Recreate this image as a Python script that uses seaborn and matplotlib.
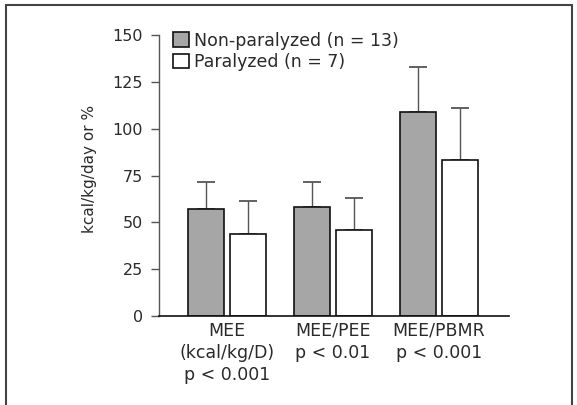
import matplotlib
matplotlib.use("Agg")
import matplotlib.pyplot as plt
import seaborn as sns
import pandas as pd
from matplotlib.patches import Rectangle, Patch

categories = ["MEE\n(kcal/kg/D)\np < 0.001", "MEE/PEE\np < 0.01", "MEE/PBMR\np < 0.001"]
groups = ["Non-paralyzed (n = 13)", "Paralyzed (n = 7)"]
nonpar_mean = [57.1, 58.2, 109.1]
nonpar_err = [14.6, 13.5, 23.7]
par_mean = [43.9, 45.7, 83.3]
par_err = [17.3, 17.5, 27.7]
yticks = [0, 25, 50, 75, 100, 125, 150]

sns.set_style("white")
plt.rcParams['font.family'] = ['DejaVu Sans']
FS = 12.5
TXT = "#2a2a2a"

df = pd.DataFrame({
    "category": categories * 2,
    "group": [groups[0]] * 3 + [groups[1]] * 3,
    "value": nonpar_mean + par_mean,
})

fig = plt.figure(figsize=(5.77, 4.05), dpi=100)
ax = fig.add_axes([159 / 577, 89 / 405, 350 / 577, 281 / 405])

palette = {groups[0]: "#a6a6a6", groups[1]: "#ffffff"}
sns.barplot(data=df, x="category", y="value", hue="group", order=categories,
            hue_order=groups, palette=palette, width=0.78, gap=0.128,
            edgecolor="#111111", linewidth=1.2, errorbar=None, legend=False, ax=ax,
            saturation=1, zorder=2)

# upward-only error bars at the centres of the drawn bars
errs = nonpar_err + par_err
vals = nonpar_mean + par_mean
for p, v, s in zip(ax.patches, vals, errs):
    xc = p.get_x() + p.get_width() / 2
    ax.errorbar(xc, v, yerr=[[0], [s]], fmt="none", ecolor="#555555",
                elinewidth=1.0, capsize=6.2, capthick=1.3, zorder=1)

ax.set_xlim(-0.64, 2.66)
ax.set_ylim(0, 150)
ax.set_yticks(yticks)
ax.set_yticklabels([str(t) for t in yticks], fontsize=11.5, color=TXT)
ax.tick_params(axis="y", direction="out", length=6, width=1, color="#555555", left=True, pad=5.5)
ax.tick_params(axis="x", length=0, pad=4, labelsize=FS, labelcolor=TXT)
for lab in ax.get_xticklabels():
    lab.set_linespacing(1.3)
ax.set_xlabel("")
ax.set_ylabel("kcal/kg/day or %", fontsize=11, color=TXT)
ax.yaxis.set_label_coords(-0.177, 0.523)

for side in ["top", "right"]:
    ax.spines[side].set_visible(False)
ax.spines["left"].set_color("#555555")
ax.spines["left"].set_linewidth(1.0)
ax.spines["bottom"].set_color("#111111")
ax.spines["bottom"].set_linewidth(1.2)

handles = [Patch(facecolor=palette[g], edgecolor="#111111", linewidth=1.2) for g in groups]
leg = ax.legend(handles, groups, loc="upper left", bbox_to_anchor=(0.040, 1.012), frameon=False,
                fontsize=FS, handlelength=0.95, handleheight=0.92, handletextpad=0.28,
                labelspacing=0.2, borderaxespad=0, borderpad=0)
for t in leg.get_texts():
    t.set_color(TXT)

fig.patches.append(Rectangle((6 / 577, -0.05), 566 / 577, 1.05 - 5.5 / 405,
                             transform=fig.transFigure, fill=False,
                             edgecolor="#444444", linewidth=1.5))

fig.savefig("out.png", dpi=100)
